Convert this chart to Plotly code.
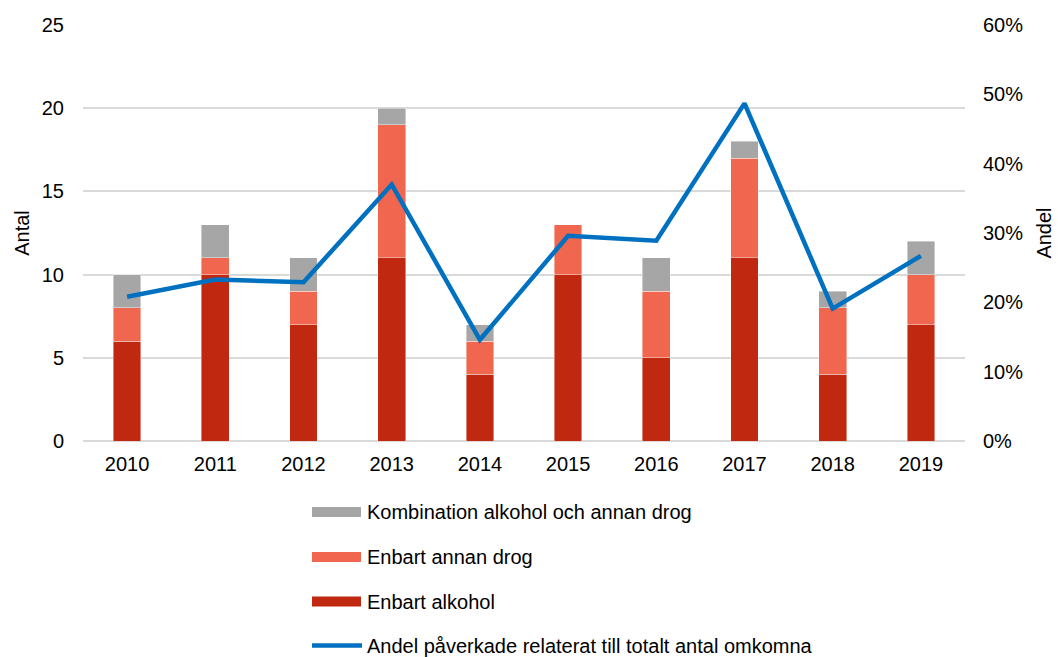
import plotly.graph_objects as go

# Data
years = ["2010", "2011", "2012", "2013", "2014", "2015", "2016", "2017", "2018", "2019"]
enbart_alkohol = [6, 10, 7, 11, 4, 10, 5, 11, 4, 7]
enbart_annan_drog = [2, 1, 2, 8, 2, 3, 4, 6, 4, 3]
kombination = [2, 2, 2, 1, 1, 0, 2, 1, 1, 2]
andel = [0.208, 0.233, 0.229, 0.370, 0.146, 0.296, 0.289, 0.487, 0.191, 0.267]

names = {
    "komb": "Kombination alkohol och annan drog",
    "annan": "Enbart annan drog",
    "alk": "Enbart alkohol",
    "andel": "Andel påverkade relaterat till totalt antal omkomna",
}
colors = {
    "alk": "#C0280F",
    "annan": "#F0664E",
    "komb": "#A6A6A6",
    "andel": "#0070C0",
}

FONT = "Liberation Sans, Arial, sans-serif"
FS = 20

W, H = 1058, 657
L, R, T, B = 83, 93, 25, 216
plot_w = W - L - R
plot_h = H - T - B

fig = go.Figure()
bar_line = dict(width=0.6, color="rgba(255,255,255,0.7)")
fig.add_trace(go.Bar(x=years, y=enbart_alkohol, name=names["alk"],
                     marker=dict(color=colors["alk"], line=bar_line)))
fig.add_trace(go.Bar(x=years, y=enbart_annan_drog, name=names["annan"],
                     marker=dict(color=colors["annan"], line=bar_line)))
fig.add_trace(go.Bar(x=years, y=kombination, name=names["komb"],
                     marker=dict(color=colors["komb"], line=bar_line)))
fig.add_trace(go.Scatter(x=years, y=andel, name=names["andel"], yaxis="y2",
                         mode="lines", line=dict(color=colors["andel"], width=4.5)))

# Hand-drawn legend below the plot (wide swatches)
def px_x(p):
    return (p - L) / plot_w

def px_y(p):
    return (H - B - p) / plot_h

legend_rows = [("komb", 512), ("annan", 557), ("alk", 601.5), ("andel", 645.5)]
shapes = []
annotations = []
for key, yc in legend_rows:
    if key == "andel":
        shapes.append(dict(type="line", xref="paper", yref="paper",
                           x0=px_x(312), x1=px_x(362), y0=px_y(yc), y1=px_y(yc),
                           line=dict(color=colors[key], width=4.5)))
    else:
        shapes.append(dict(type="rect", xref="paper", yref="paper",
                           x0=px_x(312), x1=px_x(361), y0=px_y(yc - 5), y1=px_y(yc + 5),
                           fillcolor=colors[key], line=dict(width=0)))
    annotations.append(dict(xref="paper", yref="paper", x=px_x(365), y=px_y(yc),
                            xanchor="left", yanchor="middle", showarrow=False,
                            text=names[key], font=dict(family=FONT, size=FS, color="#000")))

fig.update_layout(
    width=W, height=H,
    margin=dict(l=L, r=R, t=T, b=B, autoexpand=False),
    paper_bgcolor="white", plot_bgcolor="white",
    barmode="stack", bargap=0.686,
    showlegend=False,
    font=dict(family=FONT, size=FS, color="#000"),
    xaxis=dict(showgrid=False, showline=False, ticks="", ticklabelstandoff=9,
               tickfont=dict(size=FS), automargin=False),
    yaxis=dict(range=[0, 25], dtick=5, showgrid=True, gridcolor="#D9D9D9", gridwidth=1.6,
               zeroline=True, zerolinecolor="#D9D9D9", zerolinewidth=1.6,
               showline=False, ticks="", ticklabelstandoff=18, automargin=False,
               title=dict(text="Antal", standoff=6, font=dict(size=FS))),
    yaxis2=dict(range=[0, 0.6], dtick=0.1, tickformat=".0%", overlaying="y", side="right",
                showgrid=False, zeroline=False, showline=False, ticks="",
                ticklabelstandoff=17, automargin=False,
                title=dict(text="Andel", standoff=14, font=dict(size=FS))),
    shapes=shapes,
    annotations=annotations,
)

fig.write_html("out.html")
